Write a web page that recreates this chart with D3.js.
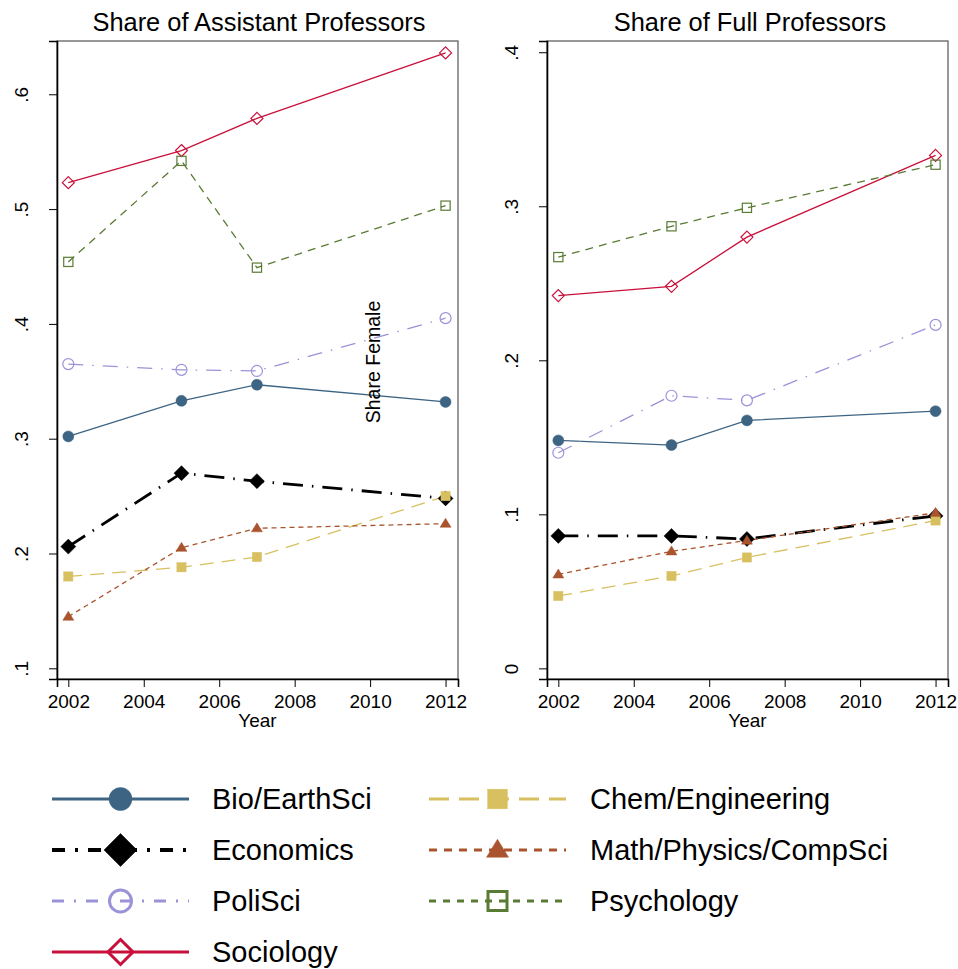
<!DOCTYPE html>
<html><head><meta charset="utf-8">
<script src="https://cdn.jsdelivr.net/npm/d3@7"></script>
<style>body{margin:0;background:#fff}svg{display:block}text{font-family:"Liberation Sans",Arial,sans-serif;fill:#000}</style>
</head><body>
<script>
const years = [2002, 2005, 2007, 2012];
const xTicks = [2002, 2004, 2006, 2008, 2010, 2012];
const fields = ["Bio/EarthSci","Economics","PoliSci","Sociology","Chem/Engineering","Math/Physics/CompSci","Psychology"];
// Share of Assistant Professors
const asstBio   = [0.302, 0.333, 0.347, 0.332];
const asstEcon  = [0.206, 0.270, 0.263, 0.248];
const asstPoli  = [0.365, 0.360, 0.359, 0.405];
const asstSoc   = [0.523, 0.551, 0.579, 0.636];
const asstChem  = [0.180, 0.188, 0.197, 0.250];
const asstMath  = [0.145, 0.205, 0.222, 0.226];
const asstPsych = [0.454, 0.542, 0.449, 0.503];
// Share of Full Professors
const fullBio   = [0.148, 0.145, 0.161, 0.167];
const fullEcon  = [0.086, 0.086, 0.084, 0.099];
const fullPoli  = [0.140, 0.177, 0.174, 0.223];
const fullSoc   = [0.242, 0.248, 0.280, 0.333];
const fullChem  = [0.047, 0.060, 0.072, 0.096];
const fullMath  = [0.061, 0.076, 0.083, 0.101];
const fullPsych = [0.267, 0.287, 0.299, 0.327];
const asstTicks = [0.1, 0.2, 0.3, 0.4, 0.5, 0.6];
const fullTicks = [0, 0.1, 0.2, 0.3, 0.4];

const styles = {
  "Bio/EarthSci":        {color:"#3d6483", dash:null,          w:1.3, lw:3, marker:"circle",   fill:true},
  "Economics":           {color:"#000000", dash:"20,9,1.5,9",  w:2.8, lw:4, marker:"diamond",  fill:true},
  "PoliSci":             {color:"#9b93d8", dash:"15,9,1.5,9",  w:1.3, lw:3, marker:"circle",   fill:false},
  "Sociology":           {color:"#c8103a", dash:null,          w:1.3, lw:3, marker:"diamond",  fill:false},
  "Chem/Engineering":    {color:"#d8c060", dash:"14,8",        w:1.3, lw:3, marker:"square",   fill:true},
  "Math/Physics/CompSci":{color:"#a9542e", dash:"5,4",         w:1.3, lw:3, marker:"triangle", fill:true},
  "Psychology":          {color:"#5a7b34", dash:"8,6",         w:1.3, lw:3, marker:"square",   fill:false}
};

const W = 958, H = 969;
const svg = d3.select("body").append("svg").attr("width", W).attr("height", H);

function drawMarker(g, type, filled, color, cx, cy, s, sw) {
  let el;
  if (type === "circle") {
    el = g.append("circle").attr("cx", cx).attr("cy", cy).attr("r", s);
  } else if (type === "diamond") {
    el = g.append("path").attr("d", `M${cx},${cy-s}L${cx+s},${cy}L${cx},${cy+s}L${cx-s},${cy}Z`);
  } else if (type === "square") {
    el = g.append("rect").attr("x", cx-s).attr("y", cy-s).attr("width", 2*s).attr("height", 2*s);
  } else {
    const h = s*1.8;
    el = g.append("path").attr("d", `M${cx},${cy-h*0.6}L${cx+s*1.1},${cy+h*0.4}L${cx-s*1.1},${cy+h*0.4}Z`);
  }
  if (filled) el.attr("fill", color).attr("stroke", color).attr("stroke-width", 0.5);
  else el.attr("fill", "none").attr("stroke", color).attr("stroke-width", sw);
  return el;
}

const markerSize = {circle:5.5, diamond:6, square:4.6, triangle:5};
const markerSizeE = {circle:5.5, diamond:7.5, square:4.6, triangle:5};

function panel(opts) {
  const {x0, x1, y0, y1, yDomain, xDomain, ticks, title, titleX, data, ylabX} = opts;
  const x = d3.scaleLinear().domain(xDomain).range([x0, x1]);
  const y = d3.scaleLinear().domain(yDomain).range([y1, y0]);
  const g = svg.append("g");
  g.append("rect").attr("x", x0).attr("y", y0).attr("width", x1-x0).attr("height", y1-y0)
    .attr("fill", "none").attr("stroke", "#555").attr("stroke-width", 1.2);
  const ya = g.append("g").attr("transform", `translate(${x0},0)`)
    .call(d3.axisLeft(y).tickValues(ticks).tickSize(8).tickPadding(0)
      .tickFormat(d => d === 0 ? "0" : d3.format(".1f")(d).replace(/^0/, "")));
  ya.select(".domain").attr("stroke", "#000").attr("stroke-width", 1.6);
  ya.selectAll(".tick line").attr("stroke", "#000").attr("stroke-width", 1);
  ya.selectAll(".tick text").attr("font-size", 19).attr("text-anchor", "middle")
    .attr("x", 0).attr("dy", 0)
    .attr("transform", `translate(${ylabX - x0},0) rotate(-90)`);
  const xa = g.append("g").attr("transform", `translate(0,${y1})`)
    .call(d3.axisBottom(x).tickValues(xTicks).tickSize(8).tickPadding(0).tickFormat(d3.format("d")));
  xa.select(".domain").attr("stroke", "#000").attr("stroke-width", 1.6);
  xa.selectAll(".tick line").attr("stroke", "#000").attr("stroke-width", 1);
  xa.selectAll(".tick text").attr("font-size", 19).attr("dy", 0).attr("y", 29);
  svg.append("text").attr("x", titleX).attr("y", 31).attr("text-anchor", "middle")
    .attr("font-size", 25.4).text(title);
  svg.append("text").attr("x", (x0+x1)/2).attr("y", 727).attr("text-anchor", "middle")
    .attr("font-size", 19).text("Year");
  const line = d3.line().x(d => x(d[0])).y(d => y(d[1]));
  fields.forEach(f => {
    const st = styles[f];
    const pts = years.map((yr, i) => [yr, data[f][i]]);
    g.append("path").attr("d", line(pts)).attr("fill", "none").attr("stroke", st.color)
      .attr("stroke-width", st.w).attr("stroke-dasharray", st.dash);
  });
  fields.forEach(f => {
    const st = styles[f];
    years.forEach((yr, i) => {
      const sz = f === "Economics" ? markerSizeE[st.marker] : markerSize[st.marker];
      drawMarker(g, st.marker, st.fill, st.color, x(yr), y(data[f][i]), sz, 1.2);
    });
  });
  return {x, y};
}

panel({x0:57, x1:458, y0:41, y1:679, yDomain:[0.0907, 0.6464], xDomain:[2001.70, 2012.33],
  ticks: asstTicks, title:"Share of Assistant Professors", titleX:259, ylabX:28,
  data:{"Bio/EarthSci":asstBio,"Economics":asstEcon,"PoliSci":asstPoli,"Sociology":asstSoc,
        "Chem/Engineering":asstChem,"Math/Physics/CompSci":asstMath,"Psychology":asstPsych}});
panel({x0:547, x1:948, y0:41, y1:679, yDomain:[-0.0069, 0.4073], xDomain:[2001.70, 2012.33],
  ticks: fullTicks, title:"Share of Full Professors", titleX:750, ylabX:518,
  data:{"Bio/EarthSci":fullBio,"Economics":fullEcon,"PoliSci":fullPoli,"Sociology":fullSoc,
        "Chem/Engineering":fullChem,"Math/Physics/CompSci":fullMath,"Psychology":fullPsych}});

svg.append("text").attr("transform", "translate(380,362) rotate(-90)").attr("text-anchor", "middle")
  .attr("font-size", 19.5).text("Share Female");

const legPos = [
  {f:"Bio/EarthSci", lx:52, y:799}, {f:"Economics", lx:52, y:850}, {f:"PoliSci", lx:52, y:901}, {f:"Sociology", lx:52, y:952},
  {f:"Chem/Engineering", lx:429, y:799}, {f:"Math/Physics/CompSci", lx:429, y:850}, {f:"Psychology", lx:429, y:901}
];
const legMarker = {circle:11.5, diamond:16.5, square:9.8, triangle:10};
const legMarkerH = {circle:11, diamond:12.5, square:9.5, triangle:10};
const legDash = {"Economics":"13,10,3,10","PoliSci":"12,10,2,10","Chem/Engineering":"20,10","Math/Physics/CompSci":"8,7","Psychology":"7,7"};
const lg = svg.append("g");
legPos.forEach(p => {
  const st = styles[p.f];
  const len = p.lx < 200 ? 137 : 137;
  lg.append("line").attr("x1", p.lx).attr("x2", p.lx + len).attr("y1", p.y).attr("y2", p.y)
    .attr("stroke", st.color).attr("stroke-width", st.lw).attr("stroke-dasharray", legDash[p.f] || null);
  const cx = p.lx + 68.5;
  const s = st.fill ? legMarker[st.marker] : legMarkerH[st.marker];
  drawMarker(lg, st.marker, st.fill, st.color, cx, p.y, s, 3);
  lg.append("text").attr("x", p.lx < 200 ? 212 : 590).attr("y", p.y + 10).attr("font-size", 29).text(p.f);
});
</script>
</body></html>
